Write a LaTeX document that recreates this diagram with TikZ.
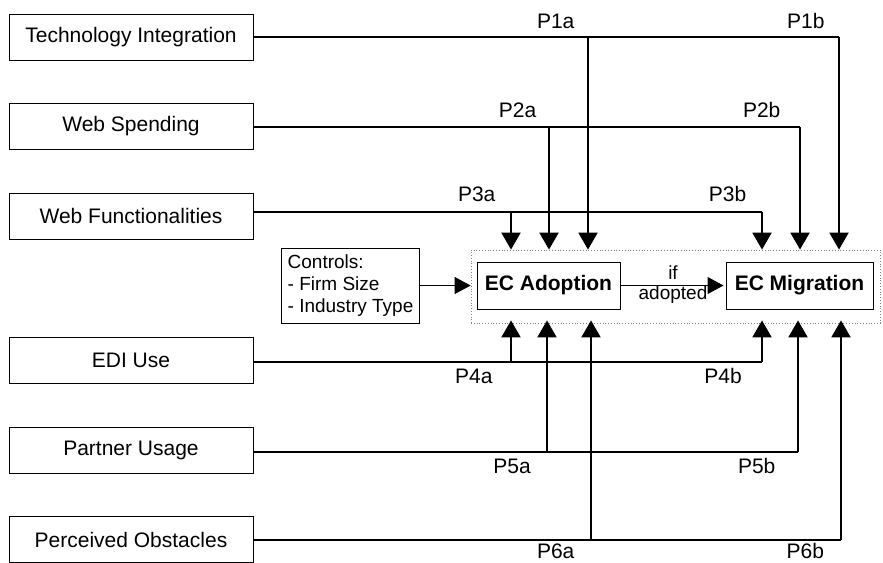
\documentclass[tikz,border=0pt]{standalone}
\usepackage{fontspec}
\setmainfont{Liberation Sans}
\usetikzlibrary{arrows.meta}
\begin{document}
\begin{tikzpicture}[x=1pt,y=-1pt,
  factor/.style={draw,line width=1pt,minimum width=244pt,minimum height=46pt,inner sep=0pt,font=\fontsize{21}{25}\selectfont},
  ecnode/.style={draw,line width=1pt,minimum height=47pt,inner sep=0pt,font=\fontsize{21}{25}\selectfont\bfseries},
  link/.style={line width=2pt},
  arr/.style={line width=2pt,-{Triangle[width=19pt,length=17pt]}},
  plabel/.style={font=\fontsize{21}{25}\selectfont,inner sep=0pt},
  small/.style={font=\fontsize{19}{22}\selectfont,inner sep=0pt}]
\useasboundingbox (0,0) rectangle (883,562);
\clip (0,0) rectangle (883,562);
% left boxes
\node[factor] (ti) at (131,37.5) {Technology Integration};
\node[factor] (ws) at (131,126.5) {Web Spending};
\node[factor] (wf) at (131,216) {Web Functionalities};
\node[factor] (edi) at (131,360) {EDI Use};
\node[factor] (pu) at (131,450) {Partner Usage};
\node[factor] (po) at (131,539.5) {Perceived Obstacles};
% central nodes
\node[draw=gray,dotted,line width=0.8pt,minimum width=409pt,minimum height=73pt,inner sep=0pt] (grp) at (675.5,286.5) {};
\node[ecnode,minimum width=143pt] (eca) at (548.5,285.5) {EC Adoption};
\node[ecnode,minimum width=147pt] (ecm) at (799.5,285.5) {EC Migration};
\node[draw,line width=1pt,minimum width=138pt,minimum height=75pt,inner sep=3pt,align=left,font=\fontsize{19}{22}\selectfont,anchor=west] (ctl) at (281,285.5) {Controls:\\- Firm Size\\- Industry Type};
\draw[line width=1pt,-{Triangle[width=17pt,length=16pt]}] (ctl.east) -- (grp.west |- ctl.east);
\draw[line width=1pt,-{Triangle[width=17pt,length=16pt]}] (eca.east) -- ([xshift=-2pt]ecm.west);
\node[small] (iflab) at (673,273) {if};
\node[small] (adlab) at (673,295) {adopted};
% junction coordinates (top)
\coordinate (j1) at (839,37);
\coordinate (b1) at (588,37);
\coordinate (j2) at (800,127);
\coordinate (b2) at (549,127);
\coordinate (j3) at (762,212);
\coordinate (b3) at (511,212);
% junction coordinates (bottom)
\coordinate (j4) at (762,362);
\coordinate (b4) at (511,362);
\coordinate (j5) at (798,452);
\coordinate (b5) at (547,452);
\coordinate (j6) at (841,540);
\coordinate (b6) at (591,540);
% top links
\draw[link] (ti.east |- j1) -- (j1);
\draw[arr] (j1) -- (j1 |- grp.north);
\draw[arr] (b1) -- (b1 |- grp.north);
\draw[link] (ws.east |- j2) -- (j2);
\draw[arr] (j2) -- (j2 |- grp.north);
\draw[arr] (b2) -- (b2 |- grp.north);
\draw[link] (wf.east |- j3) -- (j3);
\draw[arr] (j3) -- (j3 |- grp.north);
\draw[arr] (b3) -- (b3 |- grp.north);
% bottom links
\draw[link] (edi.east |- j4) -- (j4);
\draw[arr] (j4) -- ([yshift=3pt]j4 |- grp.south);
\draw[arr] (b4) -- ([yshift=3pt]b4 |- grp.south);
\draw[link] (pu.east |- j5) -- (j5);
\draw[arr] (j5) -- ([yshift=3pt]j5 |- grp.south);
\draw[arr] (b5) -- ([yshift=3pt]b5 |- grp.south);
\draw[link] (po.east |- j6) -- (j6);
\draw[arr] (j6) -- ([yshift=3pt]j6 |- grp.south);
\draw[arr] (b6) -- ([yshift=3pt]b6 |- grp.south);
% labels
\node[plabel] (p1a) at (555.7,21) {P1a};
\node[plabel] (p1b) at (805.8,21) {P1b};
\node[plabel] (p2a) at (517.5,110) {P2a};
\node[plabel] (p2b) at (761.7,110) {P2b};
\node[plabel] (p3a) at (476.7,194) {P3a};
\node[plabel] (p3b) at (727.5,194) {P3b};
\node[plabel] (p4a) at (473.8,376) {P4a};
\node[plabel] (p4b) at (723,376) {P4b};
\node[plabel] (p5a) at (512,466) {P5a};
\node[plabel] (p5b) at (756.7,466) {P5b};
\node[plabel] (p6a) at (555.7,551) {P6a};
\node[plabel] (p6b) at (805.3,551) {P6b};
\end{tikzpicture}
\end{document}
